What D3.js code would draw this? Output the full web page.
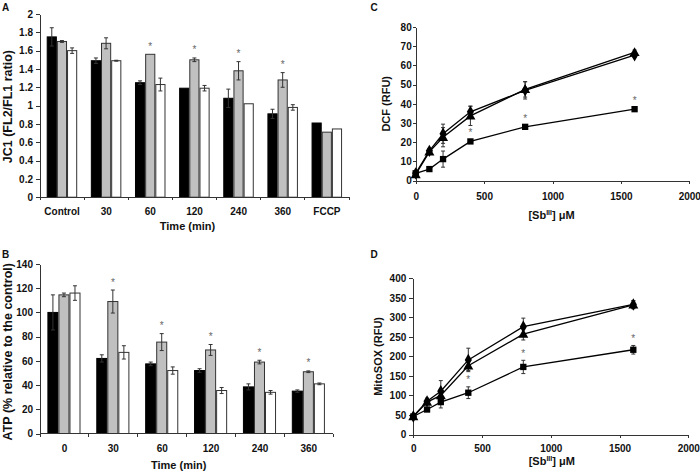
<!DOCTYPE html>
<html lang="en">
<head>
<meta charset="UTF-8">
<title>JC1, ATP, DCF and MitoSOX panels</title>
<script src="https://d3js.org/d3.v7.min.js"></script>
<style>
  body { margin: 0; background: #fff; }
  svg { font-family: Arial, "Liberation Sans", sans-serif; }
  .axis path, .axis line { stroke: #333; shape-rendering: crispEdges; }
  .axis text { font-size: 10px; font-weight: bold; fill: #111; font-family: Arial, "Liberation Sans", sans-serif; }
  .title { font-size: 11px; font-weight: bold; fill: #111; }
  .panel { font-size: 10px; font-weight: bold; fill: #111; }
  .err { stroke: #333; stroke-width: 1; fill: none; }
  .star { font-size: 10px; fill: #666; }
  .line { fill: none; stroke: #000; stroke-width: 1.3; }
</style>
</head>
<body>
<svg width="700" height="475"></svg>
<script>
const svg = d3.select("svg");

// ---- Panel A: JC1 (FL2/FL1 ratio)
const timesA = ["Control", "30", "60", "120", "240", "360", "FCCP"];
const jc1Black = [1.75, 1.49, 1.25, 1.19, 1.08, 0.91, 0.81];
const jc1Gray  = [1.70, 1.68, 1.56, 1.50, 1.38, 1.28, 0.71];
const jc1White = [1.60, 1.49, 1.23, 1.19, 1.02, 0.98, 0.745];
const jc1BlackErr = [0.10, 0.03, 0.02, 0, 0.10, 0.05, 0];
const jc1GrayErr  = [0.01, 0.06, 0, 0.02, 0.10, 0.08, 0];
const jc1WhiteErr = [0.03, 0.005, 0.07, 0.03, 0, 0.03, 0];
const starsA = ["60", "120", "240", "360"];
const yTicksA = [0, 0.2, 0.4, 0.6, 0.8, 1, 1.2, 1.4, 1.6, 1.8, 2];

// ---- Panel B: ATP (% relative to the control)
const timesB = ["0", "30", "60", "120", "240", "360"];
const atpBlack = [100, 62, 57.5, 52, 38.5, 35];
const atpGray  = [114.5, 109, 75.5, 69, 59, 51];
const atpWhite = [116, 67, 52, 35.5, 34, 41];
const atpBlackErr = [14.5, 3, 1.5, 1.5, 2.5, 1];
const atpGrayErr  = [1.5, 9.5, 7, 4.5, 1.5, 0.7];
const atpWhiteErr = [6, 5.5, 3, 2.5, 1.5, 0.7];
const starsB = ["30", "60", "120", "240", "360"];
const yTicksB = [0, 20, 40, 60, 80, 100, 120, 140];

// ---- Panel C: DCF (RFU) vs [SbIII]
const concC = [0, 100, 200, 400, 800, 1600];
const dcfDiamond  = [3.8, 15.5, 24.4, 35.8, 47, 65.3];
const dcfTriangle = [3.2, 15, 22.6, 33.7, 47.5, 66.8];
const dcfSquare   = [3.8, 6, 11.2, 20.4, 28, 37.2];
const dcfDiamondErr  = [0.5, 1, 5, 3, 4.5, 1];
const dcfTriangleErr = [0.5, 1, 5, 5, 4, 1.2];
const dcfSquareErr   = [0.5, 0.5, 4.2, 0.8, 0.8, 0.8];
const starsC = [400, 800, 1600];
const yTicksC = [0, 10, 20, 30, 40, 50, 60, 70, 80];

// ---- Panel D: MitoSOX (RFU) vs [SbIII]
const concD = [0, 100, 200, 400, 800, 1600];
const soxDiamond  = [46, 85, 111, 191, 276, 333];
const soxTriangle = [46, 83, 100, 176, 257, 332];
const soxSquare   = [46, 64, 83, 107, 173, 217];
const soxDiamondErr  = [3, 8, 27, 30, 22, 10];
const soxTriangleErr = [3, 6, 15, 12, 15, 10];
const soxSquareErr   = [3, 3, 15, 15, 17, 11];
const starsD = [400, 800, 1600];
const yTicksD = [0, 50, 100, 150, 200, 250, 300, 350, 400];
const xTicksCD = [0, 500, 1000, 1500, 2000];

const fmt = d => String(+d.toFixed(1));

function errBar(g, x, yTop, yBot, cap) {
  g.append("line").attr("class", "err")
    .attr("x1", x).attr("x2", x).attr("y1", yTop).attr("y2", yBot);
  [yTop, yBot].forEach(yy => g.append("line").attr("class", "err")
    .attr("x1", x - cap).attr("x2", x + cap).attr("y1", yy).attr("y2", yy));
}

function barPanel(cfg) {
  const g = svg.append("g");
  const x = d3.scaleBand().domain(cfg.cats).range(cfg.xRange);
  const xi = d3.scaleBand().domain([0, 1, 2]).range(cfg.inner);
  const y = d3.scaleLinear().domain(cfg.yDomain).range(cfg.yRange);
  const fills = ["#000", "#c0c0c0", "#fff"];
  const strokes = ["#000", "#333", "#333"];

  cfg.series.forEach((vals, s) => {
    g.selectAll(null).data(vals).join("rect")
      .attr("x", (d, i) => x(cfg.cats[i]) + xi(s) + 0.5)
      .attr("width", xi.bandwidth() - 1)
      .attr("y", d => y(d))
      .attr("height", d => y(0) - y(d))
      .attr("fill", fills[s])
      .attr("stroke", strokes[s]);
  });
  cfg.series.forEach((vals, s) => {
    vals.forEach((v, i) => {
      const e = cfg.errs[s][i];
      if (e > 0) errBar(g, x(cfg.cats[i]) + xi(s) + xi.bandwidth() / 2, y(v + e), y(v - e), 2);
    });
  });
  cfg.stars.forEach(c => {
    const i = cfg.cats.indexOf(c);
    const top = y(cfg.series[1][i] + cfg.errs[1][i]);
    g.append("text").attr("class", "star").attr("text-anchor", "middle")
      .attr("x", x(c) + xi(1) + xi.bandwidth() / 2).attr("y", top - 4.5).text("*");
  });

  // axes
  g.append("g").attr("class", "axis")
    .attr("transform", `translate(${cfg.xRange[0]},0)`)
    .call(d3.axisLeft(y).tickValues(cfg.yTicks).tickFormat(fmt).tickSize(4).tickSizeOuter(0));
  const ax = g.append("g").attr("class", "axis");
  ax.append("line").attr("x1", cfg.xRange[0]).attr("x2", cfg.xRange[1])
    .attr("y1", y(0)).attr("y2", y(0));
  cfg.cats.concat([null]).forEach(c => {
    const xx = c === null ? cfg.xRange[1] : x(c);
    ax.append("line").attr("x1", xx).attr("x2", xx).attr("y1", y(0)).attr("y2", y(0) + 3);
  });
  ax.selectAll("text.cat").data(cfg.cats).join("text").attr("class", "cat")
    .attr("text-anchor", "middle")
    .attr("x", d => x(d) + x.bandwidth() / 2).attr("y", cfg.tickY).text(d => d);

  g.append("text").attr("class", "title").attr("text-anchor", "middle")
    .attr("x", (cfg.xRange[0] + cfg.xRange[1]) / 2 + cfg.xTitleDx).attr("y", cfg.xTitleY).text("Time (min)");
  g.append("text").attr("class", "title").attr("text-anchor", "middle")
    .style("font-size", "12.5px")
    .attr("transform", `translate(${cfg.yTitleX},${(cfg.yRange[0] + cfg.yRange[1]) / 2 + cfg.yTitleDy}) rotate(-90)`)
    .text(cfg.yTitle);
  g.append("text").attr("class", "panel").attr("x", cfg.letter[0]).attr("y", cfg.letter[1]).text(cfg.name);
}

function linePanel(cfg) {
  const g = svg.append("g");
  const x = d3.scaleLinear().domain([0, 2000]).range(cfg.xRange);
  const y = d3.scaleLinear().domain(cfg.yDomain).range(cfg.yRange);
  const line = d3.line().x((d, i) => x(cfg.conc[i])).y(d => y(d));

  g.append("g").attr("class", "axis")
    .attr("transform", `translate(${cfg.xRange[0]},0)`)
    .call(d3.axisLeft(y).tickValues(cfg.yTicks).tickSize(cfg.tickSize).tickPadding(cfg.tickPad).tickSizeOuter(0));
  g.append("g").attr("class", "axis")
    .attr("transform", `translate(0,${cfg.yRange[0]})`)
    .call(d3.axisBottom(x).tickValues(xTicksCD).tickFormat(d3.format("d")).tickSize(3).tickPadding(cfg.xPad).tickSizeOuter(0));

  const shapes = [d3.symbolDiamond, d3.symbolTriangle, d3.symbolSquare];
  const sizes = [44, 44, 40];
  cfg.series.forEach(vals => g.append("path").attr("class", "line").attr("d", line(vals)));
  cfg.series.forEach((vals, s) => vals.forEach((v, i) => {
    const e = cfg.errs[s][i];
    if (e > 0) errBar(g, x(cfg.conc[i]), y(v + e), y(v - e), 2);
  }));
  cfg.series.forEach((vals, s) => {
    g.selectAll(null).data(vals).join("path")
      .attr("transform", (d, i) => `translate(${x(cfg.conc[i])},${y(d) + (s === 1 ? 0.8 : 0)})`)
      .attr("d", d3.symbol().type(shapes[s]).size(sizes[s]))
      .attr("fill", "#000");
  });
  cfg.stars.forEach(c => {
    const i = cfg.conc.indexOf(c);
    const top = y(cfg.series[2][i] + cfg.errs[2][i]);
    g.append("text").attr("class", "star").attr("text-anchor", "middle")
      .attr("x", x(c)).attr("y", top - 3.5).text("*");
  });

  const t = g.append("text").attr("class", "title").attr("text-anchor", "middle")
    .attr("x", (cfg.xRange[0] + cfg.xRange[1]) / 2 + cfg.xTitleDx).attr("y", cfg.xTitleY);
  t.append("tspan").text("[Sb");
  t.append("tspan").attr("font-size", "7px").attr("dy", -4).text("III");
  t.append("tspan").attr("dy", 4).text("] \u03bcM");
  g.append("text").attr("class", "title").attr("text-anchor", "middle")
    .attr("transform", `translate(${cfg.yTitleX},${(cfg.yRange[0] + cfg.yRange[1]) / 2}) rotate(-90)`)
    .text(cfg.yTitle);
  g.append("text").attr("class", "panel").attr("x", cfg.letter[0]).attr("y", cfg.letter[1]).text(cfg.name);
}

barPanel({
  name: "A", letter: [2, 10.5],
  cats: timesA, series: [jc1Black, jc1Gray, jc1White], errs: [jc1BlackErr, jc1GrayErr, jc1WhiteErr],
  stars: starsA, yTicks: yTicksA,
  xRange: [40, 349], inner: [6.7, 37.2], yDomain: [0, 2], yRange: [197.2, 14],
  tickY: 214.5, xTitleY: 229.5, xTitleDx: -7, yTitleX: 11.5, yTitleDy: 1, yTitle: "JC1 (FL2/FL1 ratio)"
});

barPanel({
  name: "B", letter: [2, 258],
  cats: timesB, series: [atpBlack, atpGray, atpWhite], errs: [atpBlackErr, atpGrayErr, atpWhiteErr],
  stars: starsB, yTicks: yTicksB,
  xRange: [40, 333.3], inner: [7.4, 40.5], yDomain: [0, 140], yRange: [433.5, 264],
  tickY: 452, xTitleY: 468.5, xTitleDx: -8, yTitleX: 11.5, yTitleDy: 3, yTitle: "ATP (% relative to the control)"
});

linePanel({
  name: "C", letter: [370.5, 10.5],
  conc: concC, series: [dcfDiamond, dcfTriangle, dcfSquare], errs: [dcfDiamondErr, dcfTriangleErr, dcfSquareErr],
  stars: starsC, yTicks: yTicksC, tickSize: 3, tickPad: 1, xPad: 9,
  xRange: [415.7, 689.3], yDomain: [0, 80], yRange: [180.6, 27],
  xTitleY: 219, xTitleDx: -1, yTitleX: 390, yTitle: "DCF (RFU)"
});

linePanel({
  name: "D", letter: [370.5, 258],
  conc: concD, series: [soxDiamond, soxTriangle, soxSquare], errs: [soxDiamondErr, soxTriangleErr, soxSquareErr],
  stars: starsD, yTicks: yTicksD, tickSize: 4, tickPad: 3, xPad: 7,
  xRange: [413.3, 688.3], yDomain: [0, 400], yRange: [434.5, 278.3],
  xTitleY: 464.5, xTitleDx: 1, yTitleX: 381.5, yTitle: "MitoSOX (RFU)"
});
</script>
</body>
</html>
